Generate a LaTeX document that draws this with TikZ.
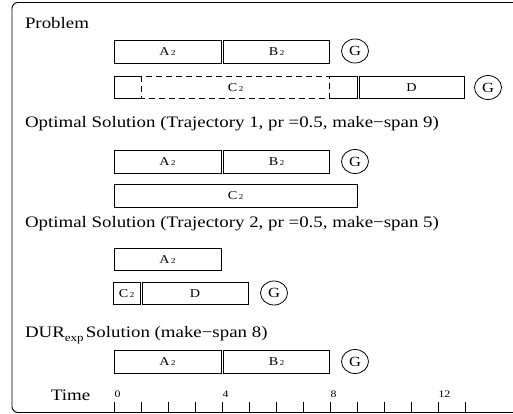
\documentclass[tikz,border=0pt]{standalone}
\usepackage{fontspec}
\usepackage{graphicx}
\setmainfont{Liberation Serif}
\usetikzlibrary{calc,shapes.geometric}

% all lettering is set slightly wide
\newcommand{\widetext}[1]{\scalebox{1.18}[1]{#1}}
% task label: letter followed by a small index
\newcommand{\tasklbl}[2]{\widetext{#1\hspace{1.3pt}{\fontsize{7.5}{7.5}\selectfont #2}}}

\begin{document}
\begin{tikzpicture}[x=1pt,y=-1pt,
  every node/.style={inner sep=0pt, outer sep=0pt},
  boxline/.style={draw=black, line width=0.8pt},
  dashline/.style={draw=black, line width=0.8pt, dash pattern=on 6pt off 4pt},
  task/.style={boxline, minimum height=22.5pt, anchor=west, font=\fontsize{12}{12}\selectfont},
  region/.style={minimum height=22.5pt, anchor=west, font=\fontsize{12}{12}\selectfont},
  goal/.style={boxline, ellipse, minimum width=27pt, minimum height=24pt, font=\fontsize{14}{14}\selectfont},
  heading/.style={anchor=base west, font=\fontsize{16}{16}\selectfont},
  ticklabel/.style={anchor=base west, font=\fontsize{10}{10}\selectfont},
  frame/.style={draw=black, line width=0.9pt, rounded corners=6pt},
]
\clip (0,0) rectangle (513,414);

% outer frame, open towards the right
\draw[frame] (530,2.5) -- (12,2.5) -- (12,412.5) -- (530,412.5);

% ---------- Problem ----------
\node[heading] (hprob) at (25,29) {\widetext{Problem}};
\node[task, minimum width=107pt] (pa) at (114,52) {\tasklbl{A}{2}};
\node[task, minimum width=106pt] (pb) at (223.5,52) {\tasklbl{B}{2}};
\node[goal] (pg1) at (355,51) {\widetext{G}};

\node[region, minimum width=243pt] (pc) at (114,87.5) {\tasklbl{C}{2}};
\draw[boxline] ($(pc.north west)+(27,0)$) -- (pc.north west) -- (pc.south west) -- ($(pc.south west)+(27,0)$);
\draw[boxline] ($(pc.north east)-(28,0)$) -- (pc.north east) -- (pc.south east) -- ($(pc.south east)-(28,0)$);
\draw[dashline] ($(pc.north west)+(27,0)$) rectangle ($(pc.south east)-(28,0)$);
\node[task, minimum width=105pt] (pd) at (359,87.5) {\widetext{D}};
\node[goal] (pg2) at (488,87.5) {\widetext{G}};

% ---------- Trajectory 1 ----------
\node[heading] (hopt1) at (25,128) {\widetext{Optimal Solution (Trajectory 1, pr =0.5, make−span 9)}};
\node[task, minimum width=107pt] (oa) at (114,162) {\tasklbl{A}{2}};
\node[task, minimum width=106pt] (ob) at (223.5,162) {\tasklbl{B}{2}};
\node[goal] (og) at (355,161.5) {\widetext{G}};
\node[task, minimum width=243pt] (oc) at (114,196) {\tasklbl{C}{2}};

% ---------- Trajectory 2 ----------
\node[heading] (hopt2) at (25,227) {\widetext{Optimal Solution (Trajectory 2, pr =0.5, make−span 5)}};
\node[task, minimum width=107pt] (ta) at (114,259.5) {\tasklbl{A}{2}};
\node[task, minimum width=27pt] (tc) at (113,293.5) {\tasklbl{C}{2}};
\node[task, minimum width=106pt] (td) at (142,293.5) {\widetext{D}};
\node[goal] (tg) at (274,293) {\widetext{G}};

% ---------- expected-duration solution ----------
\node[heading] (hdur) at (25,337) {\widetext{DUR\raisebox{-4pt}{\fontsize{11}{11}\selectfont exp}\hspace{2pt}Solution (make−span 8)}};
\node[task, minimum width=107pt] (da) at (114,362) {\tasklbl{A}{2}};
\node[task, minimum width=106pt] (db) at (223.5,362) {\tasklbl{B}{2}};
\node[goal] (dg) at (355,361.5) {\widetext{G}};

% ---------- time axis ----------
\node[heading] (htime) at (51,400.5) {\widetext{Time}};
\foreach \k in {0,...,13}
  \draw[boxline] ({114+27*\k},402) -- ({114+27*\k},412.5);
\foreach \k in {0,4,8,12}
  \node[ticklabel] (t\k) at ({114.5+27*\k},397) {\widetext{\k}};
\end{tikzpicture}
\end{document}
